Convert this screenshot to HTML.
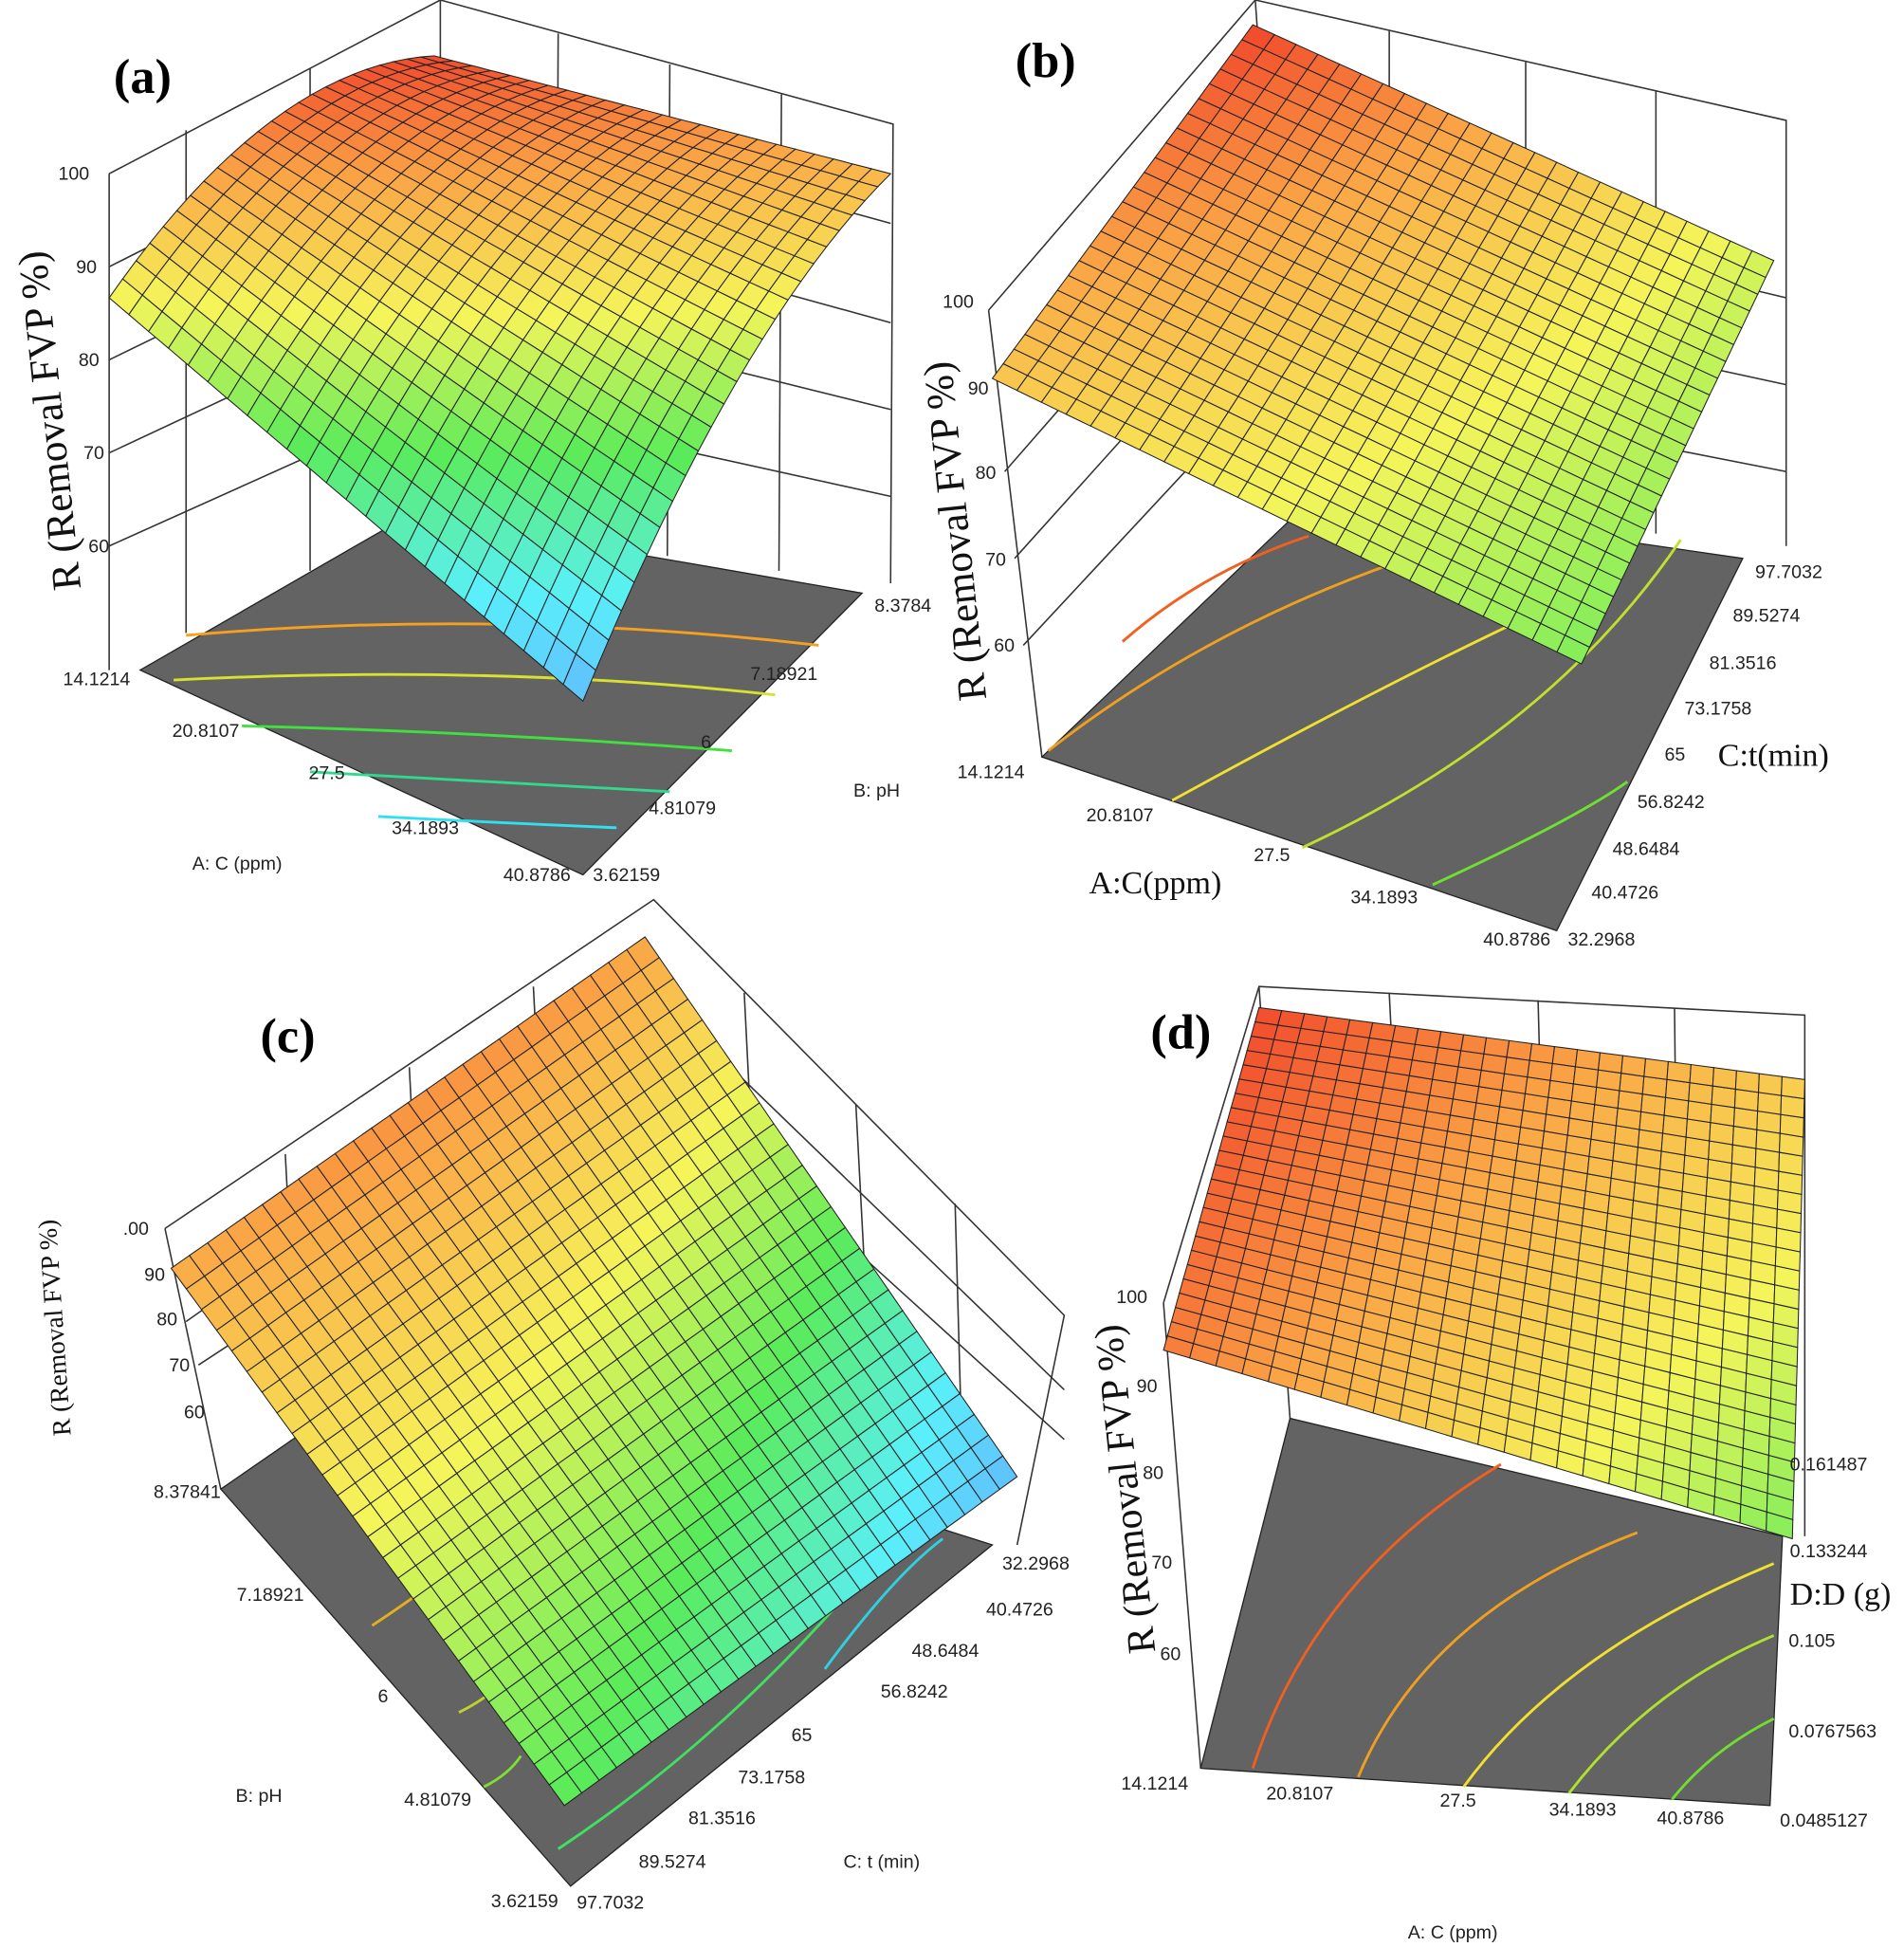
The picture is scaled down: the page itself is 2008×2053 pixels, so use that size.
<!DOCTYPE html>
<html><head><meta charset="utf-8"><style>
html,body{margin:0;padding:0;background:#fff}
svg{display:block}
.t{font-family:"Liberation Sans",sans-serif;font-size:15px;fill:#222}
.s{font-family:"Liberation Serif",serif;fill:#111}
.b{font-family:"Liberation Serif",serif;font-weight:bold;font-size:40px;fill:#000}
</style></head><body>
<svg id="g" width="2008" height="2053" viewBox="0 0 1535 1569" preserveAspectRatio="none" xmlns="http://www.w3.org/2000/svg">
<g fill="none" stroke="#333" stroke-width="1.2">
<polyline points="88,140 355,0 720,100 718,470"/>
<line x1="355" y1="0" x2="355" y2="415"/><line x1="88" y1="140" x2="88" y2="540"/>
<line x1="150" y1="105" x2="150" y2="510"/><line x1="250" y1="55" x2="250" y2="460"/>
<line x1="450" y1="27" x2="448" y2="440"/><line x1="540" y1="52" x2="538" y2="448"/><line x1="630" y1="76" x2="628" y2="460"/>
<polyline points="88,215 355,80 718,180"/><polyline points="88,290 355,160 718,260"/><polyline points="88,365 355,240 718,330"/><polyline points="88,440 355,320 718,400"/>
<polyline points="797,250 1012,0 1440,97 1440,440"/>
<line x1="797" y1="250" x2="840" y2="610"/>
<line x1="1012" y1="0" x2="1040" y2="400"/><line x1="1120" y1="25" x2="1120" y2="410"/><line x1="1230" y1="50" x2="1230" y2="420"/><line x1="1335" y1="73" x2="1335" y2="430"/>
<polyline points="810,380 1020,140 1440,240"/><polyline points="818,450 1025,220 1440,310"/><polyline points="825,520 1030,300 1440,380"/>
<polyline points="133,990 527,725 858,1060 820,1245"/>
<line x1="133" y1="990" x2="178" y2="1200"/>
<polyline points="150,1065 527,800 858,1120"/><polyline points="160,1100 527,860 858,1160"/>
<line x1="230" y1="930" x2="240" y2="1120"/><line x1="330" y1="860" x2="340" y2="1060"/><line x1="430" y1="795" x2="440" y2="990"/>
<line x1="600" y1="800" x2="610" y2="1000"/><line x1="690" y1="890" x2="700" y2="1080"/><line x1="770" y1="970" x2="775" y2="1150"/>
<polyline points="938,1050 1015,795 1455,818 1455,1238"/>
<line x1="938" y1="1050" x2="968" y2="1425"/>
<line x1="1015" y1="795" x2="1040" y2="1143"/>
<line x1="1120" y1="800" x2="1130" y2="1000"/><line x1="1240" y1="806" x2="1245" y2="1000"/><line x1="1350" y1="812" x2="1352" y2="1000"/>
</g>
<g id="floors"></g>
<g id="mesh"></g>
<g id="txt"></g>
</svg>
<script>
var NS="http://www.w3.org/2000/svg";
function el(p,tag,a,txt){var e=document.createElementNS(NS,tag);for(var k in a)e.setAttribute(k,a[k]);if(txt!=null)e.textContent=txt;document.getElementById(p).appendChild(e);return e;}
function cmap(v){v=Math.max(0,Math.min(1,v));var st=[[0,100,170,255],[0.2,90,240,250],[0.4,90,235,90],[0.6,245,245,90],[0.8,250,165,70],[1,240,60,40]];
for(var i=0;i<st.length-1;i++){if(v<=st[i+1][0]){var t=(v-st[i][0])/(st[i+1][0]-st[i][0]);return 'rgb('+[1,2,3].map(function(j){return Math.round(st[i][j]+t*(st[i+1][j]-st[i][j]))}).join(',')+')';}}return 'rgb(240,60,40)';}
function bil(a,b,c,d,u,v){return a*(1-u)*(1-v)+b*u*(1-v)+c*u*v+d*(1-u)*v;}
function surf(P,V,bulge,vb,N,M){
 function pt(u,v){var x=bil(P[0][0],P[1][0],P[2][0],P[3][0],u,v),y=bil(P[0][1],P[1][1],P[2][1],P[3][1],u,v);y-=bulge*4*v*(1-v);return [x,y];}
 function val(u,v){return bil(V[0],V[1],V[2],V[3],u,v)+vb*4*v*(1-v);}
 for(var i=0;i<N;i++)for(var j=0;j<M;j++){var u0=i/N,u1=(i+1)/N,v0=j/M,v1=(j+1)/M;
  var q=[pt(u0,v0),pt(u1,v0),pt(u1,v1),pt(u0,v1)];
  el('mesh','polygon',{points:q.map(function(p){return p[0].toFixed(1)+','+p[1].toFixed(1)}).join(' '),fill:cmap(val((u0+u1)/2,(v0+v1)/2)),stroke:'#222','stroke-width':0.8});}
}
el('floors','polygon',{points:'113,540 330,415 695,478 470,705',fill:'#636363',stroke:'#222'});
el('floors','polygon',{points:'840,610 1060,400 1405,450 1255,750',fill:'#636363',stroke:'#222'});
el('floors','polygon',{points:'178,1200 330,1095 800,1245 460,1520',fill:'#636363',stroke:'#222'});
el('floors','polygon',{points:'968,1425 1040,1143 1437,1238 1427,1455',fill:'#636363',stroke:'#222'});
var cl=[['M150,512 Q400,490 660,520','#f5a020'],['M140,548 Q400,535 625,560','#d8e030'],['M195,585 Q400,590 590,605','#40e040'],['M250,622 Q400,630 540,638','#30d890'],['M305,658 Q400,663 497,667','#30e0f0'],
['M905,517 Q970,460 1055,432','#f06020'],['M845,605 Q980,500 1150,445','#f0a020'],['M945,645 Q1100,560 1215,505','#f0e030'],['M1050,683 Q1250,590 1355,435','#c0e030'],['M1155,713 Q1270,660 1312,630','#70e030'],
['M300,1310 Q330,1290 350,1275','#e0b020'],['M370,1380 Q390,1370 400,1360','#c0d030'],['M390,1440 Q410,1430 420,1415','#80e030'],['M450,1490 Q600,1390 720,1240','#40e060'],['M665,1345 Q720,1270 760,1240','#30d0e0'],
['M1010,1425 Q1060,1270 1210,1180','#f06020'],['M1095,1432 Q1150,1300 1320,1235','#f0a020'],['M1180,1440 Q1260,1330 1430,1260','#f0e030'],['M1265,1445 Q1330,1360 1430,1318','#b0e030'],['M1348,1450 Q1380,1410 1430,1385','#70e030']];
cl.forEach(function(c){el('floors','path',{d:c[0],stroke:c[1],'stroke-width':2.2,fill:'none'});});
surf([[88,240],[470,565],[718,140],[350,45]],[0.6,0.05,0.75,0.97],45,0.1,24,24);
surf([[800,305],[1275,535],[1430,210],[1010,20]],[0.72,0.45,0.55,0.98],0,0,24,24);
surf([[138,1022],[455,1455],[820,1190],[520,755]],[0.78,0.4,0.05,0.8],0,0.05,26,26);
surf([[938,1088],[1445,1240],[1455,870],[1015,812]],[0.88,0.45,0.7,0.97],0,0,24,24);
function T(x,y,s,c,anc,extra){var a={x:x,y:y,'class':c||'t'};if(anc)a['text-anchor']=anc;for(var k in extra)a[k]=extra[k];el('txt','text',a,s);}
function R(cx,cy,fs,ang){T(cx,cy+fs*0.33,'R (Removal FVP %)','s','middle',{'font-size':fs,transform:'rotate('+ang+' '+cx+' '+cy+')'});}
T(115,75,'(a)','b','middle');T(843,62,'(b)','b','middle');T(232,848,'(c)','b','middle');T(952,845,'(d)','b','middle');
[['100',72,145],['90',78,220],['80',80,295],['70',84,370],['60',88,445]].forEach(function(a){T(a[1],a[2],a[0],'t','end');});
[['100',785,248],['90',797,318],['80',803,386],['70',811,456],['60',818,525]].forEach(function(a){T(a[1],a[2],a[0],'t','end');});
[['.00',120,995],['90',133,1032],['80',143,1068],['70',153,1105],['60',165,1143]].forEach(function(a){T(a[1],a[2],a[0],'t','end');});
[['100',925,1050],['90',933,1122],['80',938,1192],['70',945,1264],['60',952,1338]].forEach(function(a){T(a[1],a[2],a[0],'t','end');});
R(40,339,33,-96);R(770,428,33,-96);R(44,1070,21,-94);R(907,1200,32,-96);
[['14.1214',105,552],['20.8107',193,594],['27.5',278,628],['34.1893',370,672],['40.8786',460,710]].forEach(function(a){T(a[1],a[2],a[0],'t','end');});
[['3.62159',478,710],['4.81079',523,656],['6',565,603],['7.18921',605,548],['8.3784',705,493]].forEach(function(a){T(a[1],a[2],a[0]);});
T(155,701,'A: C (ppm)');T(688,642,'B: pH');
[['14.1214',826,627],['20.8107',930,662],['27.5',1040,694],['34.1893',1143,728],['40.8786',1250,762]].forEach(function(a){T(a[1],a[2],a[0],'t','end');});
[['32.2968',1264,762],['40.4726',1283,724],['48.6484',1300,689],['56.8242',1320,651],['65',1342,613],['73.1758',1358,576],['81.3516',1378,539],['89.5274',1397,501],['97.7032',1415,466]].forEach(function(a){T(a[1],a[2],a[0]);});
T(1385,617,'C:t(min)','s',null,{'font-size':26});T(878,720,'A:C(ppm)','s',null,{'font-size':26});
[['8.37841',178,1207],['7.18921',245,1290],['6',313,1372],['4.81079',380,1455],['3.62159',450,1537]].forEach(function(a){T(a[1],a[2],a[0],'t','end');});
[['32.2968',808,1265],['40.4726',795,1302],['48.6484',735,1335],['56.8242',710,1368],['65',638,1403],['73.1758',595,1437],['81.3516',555,1470],['89.5274',515,1505],['97.7032',465,1538]].forEach(function(a){T(a[1],a[2],a[0]);});
T(190,1452,'B: pH');T(680,1505,'C: t (min)');
[['14.1214',958,1442],['20.8107',1075,1450],['27.5',1190,1456],['34.1893',1303,1463],['40.8786',1390,1470]].forEach(function(a){T(a[1],a[2],a[0],'t','end');});
[['0.0485127',1435,1472],['0.0767563',1442,1400],['0.105',1442,1327],['0.133244',1443,1255],['0.161487',1443,1185]].forEach(function(a){T(a[1],a[2],a[0]);});
T(1443,1293,'D:D (g)','s',null,{'font-size':26});T(1135,1562,'A: C (ppm)');
</script>
</body></html>
